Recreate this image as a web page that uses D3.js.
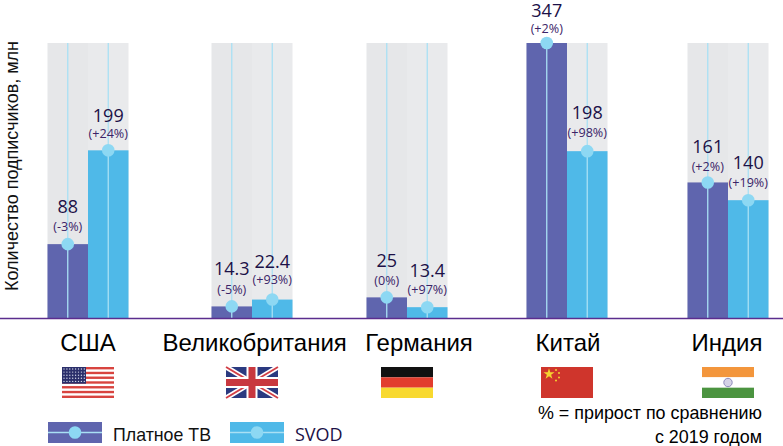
<!DOCTYPE html>
<html><head><meta charset="utf-8">
<script src="https://cdnjs.cloudflare.com/ajax/libs/d3/7.8.5/d3.min.js"></script>
<style>html,body{margin:0;padding:0;background:#fff}svg{display:block}</style>
</head><body><svg id="c" width="783" height="446"></svg>
<script>
const countries = ["США","Великобритания","Германия","Китай","Индия"];
const seriesNames = ["Платное ТВ","SVOD"];
const payTV = [88,14.3,25,347,161];
const svod = [199,22.4,13.4,198,140];
const payTVLabels = ["88","14.3","25","347","161"];
const svodLabels = ["199","22.4","13.4","198","140"];
const payTVGrowth = ["(-3%)","(-5%)","(0%)","(+2%)","(+2%)"];
const svodGrowth = ["(+24%)","(+93%)","(+97%)","(+98%)","(+19%)"];
const yTitle = "Количество подписчиков, млн";
const note = ["% = прирост по сравнению","с 2019 годом"];

const groupCentres = [88,252,407,567,728];
const barW = 40.5, plotTop = 43, base = 318.5;
const colors = {pay:"#5f65ae", svod:"#4fb9e8", track:"#e9eaec", track2:"#e6e7e9", stem:"#a9e0f4", dot:"#8dd8f3", line:"#5b2d8e"};
const sans = "'Liberation Sans',Arial,sans-serif", open = "'Open Sans',sans-serif";

const svg = d3.select("#c");
const x = d3.scaleOrdinal().domain(countries).range(groupCentres);
const y = d3.scaleLinear().domain([0,326]).range([base,plotTop]).clamp(true);

const rows = [];
countries.forEach((c,i)=>{
  rows.push({c,s:0,v:payTV[i],l:payTVLabels[i],g:payTVGrowth[i]});
  rows.push({c,s:1,v:svod[i],l:svodLabels[i],g:svodGrowth[i]});
});
const bx = d => d.s===0 ? x(d.c)-barW : x(d.c);
const cx = d => bx(d)+barW/2;
// label offsets above each bar top: [value baseline, growth baseline]
const off = {"88":[31,13],"199":[28,12],"14.3":[31,12],"22.4":[32,16],"25":[30,12],"13.4":[30,13],"347":[26,10],"198":[32,14],"161":[29,11],"140":[31,13]};

const g = svg.append("g");
g.selectAll(".track").data(rows).join("rect").attr("class","track")
  .attr("x",bx).attr("y",plotTop).attr("width",barW).attr("height",base-plotTop)
  .attr("fill",d=>d.s===0?colors.track2:colors.track);
g.selectAll(".bar").data(rows).join("rect").attr("class","bar")
  .attr("x",bx).attr("y",d=>y(d.v)).attr("width",barW).attr("height",d=>base-y(d.v))
  .attr("fill",d=>d.s===0?colors.pay:colors.svod);
g.selectAll(".stem").data(rows).join("line").attr("class","stem")
  .attr("x1",cx).attr("x2",cx).attr("y1",plotTop).attr("y2",base)
  .attr("stroke",colors.stem).attr("stroke-width",1.3);
svg.append("line").attr("x1",0).attr("x2",783).attr("y1",base).attr("y2",base)
  .attr("stroke",colors.line).attr("stroke-width",1.4);
g.selectAll(".dot").data(rows).join("circle").attr("class","dot")
  .attr("cx",cx).attr("cy",d=>y(d.v)).attr("r",6.3).attr("fill",colors.dot);
// halo so labels stay legible over the stems, as in the reference
g.selectAll(".val").data(rows).join("text").attr("class","val")
  .attr("x",cx).attr("y",d=>y(d.v)-off[d.l][0])
  .attr("text-anchor","middle").attr("font-family",open).attr("font-size",18)
  .attr("fill","#1c1147").text(d=>d.l);
g.selectAll(".pct").data(rows).join("text").attr("class","pct")
  .attr("x",cx).attr("y",d=>y(d.v)-off[d.l][1])
  .attr("text-anchor","middle").attr("font-family",open).attr("font-size",12.6)
  .attr("fill","#3b2468").text(d=>d.g);

svg.append("text").attr("transform","translate(18,291) rotate(-90)")
  .attr("font-family",sans).attr("font-size",18).attr("fill","#111").text(yTitle);

svg.selectAll(".cat").data(countries).join("text").attr("class","cat")
  .attr("x",(d,i)=>[88,254.7,419,568,727][i]).attr("y",351)
  .attr("text-anchor","middle").attr("font-family",sans).attr("font-size",24)
  .attr("fill","#000").text(d=>d);

// flags
const fw=52, fh=31, fy=367;
function flagG(px){return svg.append("g").attr("transform",`translate(${px-fw/2},${fy})`);}
(function(){const f=flagG(88);
  f.append("rect").attr("width",fw).attr("height",fh).attr("fill","#fff");
  d3.range(7).forEach(i=>f.append("rect").attr("y",i*fh/6.5).attr("width",fw).attr("height",fh/13).attr("fill","#d8443f"));
  f.append("rect").attr("width",24).attr("height",fh*7/13).attr("fill","#2b2f6b");
  d3.range(5).forEach(r=>d3.range(8).forEach(c=>f.append("circle").attr("cx",2+c*2.9).attr("cy",2+r*3.1).attr("r",.7).attr("fill","#cfd3e6")));
})();
(function(){const f=flagG(252);
  f.append("rect").attr("width",fw).attr("height",fh).attr("fill","#2b3a80");
  [[0,0,fw,fh],[fw,0,0,fh]].forEach(a=>{
    f.append("line").attr("x1",a[0]).attr("y1",a[1]).attr("x2",a[2]).attr("y2",a[3]).attr("stroke","#fff").attr("stroke-width",5);
    f.append("line").attr("x1",a[0]).attr("y1",a[1]).attr("x2",a[2]).attr("y2",a[3]).attr("stroke","#d23f46").attr("stroke-width",1.8);
  });
  f.append("rect").attr("x",fw/2-5.5).attr("width",11).attr("height",fh).attr("fill","#fff");
  f.append("rect").attr("y",fh/2-5.5).attr("width",fw).attr("height",11).attr("fill","#fff");
  f.append("rect").attr("x",fw/2-3.5).attr("width",7).attr("height",fh).attr("fill","#c8383f");
  f.append("rect").attr("y",fh/2-3.5).attr("width",fw).attr("height",7).attr("fill","#c8383f");
})();
(function(){const f=flagG(407);
  ["#111","#e23d2e","#f8d92f"].forEach((c,i)=>f.append("rect").attr("y",i*fh/3).attr("width",fw).attr("height",fh/3).attr("fill",c));
})();
(function(){const f=flagG(567);
  f.append("rect").attr("width",fw).attr("height",fh).attr("fill","#cf352c");
  f.append("path").attr("transform","translate(8,7)").attr("d",d3.symbol(d3.symbolStar,38)()).attr("fill","#f6d32f");
  [[15,3],[18,6],[18,10.5],[15,13.5]].forEach(p=>f.append("circle").attr("cx",p[0]).attr("cy",p[1]).attr("r",1).attr("fill","#f6d32f"));
})();
(function(){const f=flagG(728);
  ["#f3963c","#fff","#4b9440"].forEach((c,i)=>f.append("rect").attr("y",i*fh/3).attr("width",fw).attr("height",fh/3).attr("fill",c));
  f.append("circle").attr("cx",fw/2).attr("cy",fh/2).attr("r",4.2).attr("fill","#d5d3e6").attr("stroke","#8f8bbd").attr("stroke-width",1);
})();

// legend
const legX = [48,230], legC=[colors.pay,colors.svod];
seriesNames.forEach((n,i)=>{
  const lg = svg.append("g").attr("transform",`translate(${legX[i]},422)`);
  lg.append("rect").attr("width",54).attr("height",21).attr("fill",legC[i]);
  lg.append("line").attr("x1",0).attr("x2",54).attr("y1",10.5).attr("y2",10.5).attr("stroke",colors.stem).attr("stroke-width",1.3);
  lg.append("circle").attr("cx",27).attr("cy",10.5).attr("r",6.3).attr("fill",colors.dot);
  lg.append("text").attr("x",65).attr("y",18.5)
    .attr("font-family",i===0?sans:open).attr("font-size",i===0?17.8:18)
    .attr("fill",i===0?"#111":"#1c1147").text(n);
});
note.forEach((t,i)=>svg.append("text").attr("x",762).attr("y",[419,443][i])
  .attr("text-anchor","end").attr("font-family",sans).attr("font-size",17.9).attr("fill","#000").text(t));
</script></body></html>
